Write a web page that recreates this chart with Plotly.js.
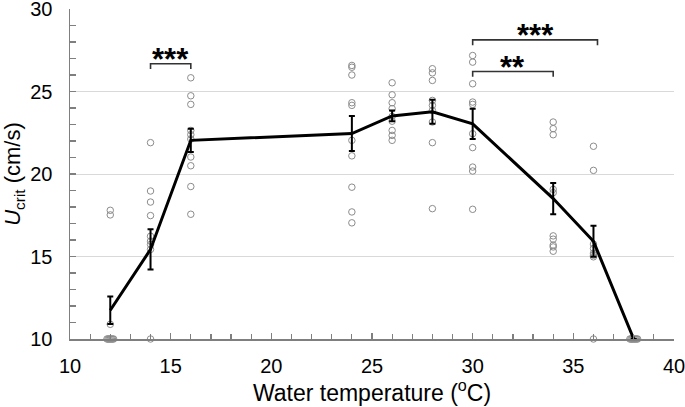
<!DOCTYPE html>
<html>
<head>
<meta charset="utf-8">
<script src="https://cdn.plot.ly/plotly-3.0.1.min.js"></script>
<style>
  html, body { margin: 0; padding: 0; background: #fff; }
  #chart { width: 685px; height: 407px; }
</style>
</head>
<body>
<div id="chart"></div>
<script>
// ---- Data ----
const temps = [12, 14, 16, 24, 26, 28, 30, 34, 36, 38];

const ucrit12 = [17.80, 17.52, 10.89, 10, 10, 10, 10, 10, 10, 10];
const ucrit14 = [21.90, 18.97, 18.30, 17.48, 16.23, 15.93, 15.73, 15.43, 10];
const ucrit16 = [25.83, 24.74, 24.22, 22.64, 22.38, 22.12, 21.03, 20.50, 19.24, 17.56];
const ucrit24 = [26.58, 26.47, 26.00, 24.32, 24.16, 22.04, 21.10, 19.20, 17.70, 17.04];
const ucrit26 = [25.53, 24.80, 24.32, 23.96, 23.49, 23.20, 22.64, 22.34, 22.04];
const ucrit28 = [26.38, 26.13, 25.67, 24.46, 24.16, 23.85, 23.15, 21.90, 17.90];
const ucrit30 = [27.18, 26.78, 25.47, 24.36, 24.22, 22.44, 21.60, 20.42, 20.18, 17.86];
const ucrit34 = [23.15, 22.75, 22.38, 19.07, 18.87, 16.25, 16.05, 15.69, 15.58, 15.32];
const ucrit36 = [21.68, 20.22, 15.75, 15.49, 15.20, 15.08, 14.98, 10];
const ucrit38 = [10, 10, 10, 10, 10, 10, 10, 10];

const groups = [ucrit12, ucrit14, ucrit16, ucrit24, ucrit26, ucrit28, ucrit30, ucrit34, ucrit36, ucrit38];

const meanUcrit = [11.74, 15.43, 22.04, 22.45, 23.52, 23.77, 23.04, 18.51, 15.92, 10];
const seUcrit   = [0.83, 1.22, 0.71, 1.06, 0.33, 0.73, 0.92, 0.95, 0.94, null];

const xTicks = [10, 15, 20, 25, 30, 35, 40];
const yTicks = [10, 15, 20, 25, 30];

// significance brackets: [from temp, to temp, label]
const sigFrom   = [14, 30, 30];
const sigTo     = [16, 34, 36.2];
const sigLabel  = ['***', '**', '***'];
const sigLevel  = [26.68, 26.21, 28.13];   // bracket height (cm/s)
const sigDrop   = 0.32;

// ---- Build traces ----
const px = [], py = [];
groups.forEach((vals, i) => {
  const floorCount = vals.filter(v => v === 10).length;
  let k = 0;
  vals.forEach(v => {
    let off = 0;
    if (v === 10 && floorCount > 1) {
      off = (k - (floorCount - 1) / 2) * 0.055;
      k++;
    }
    px.push(temps[i] + off);
    py.push(v);
  });
});

const font = 'Liberation Sans, Arial, sans-serif';

const traces = [
  {
    x: px, y: py, type: 'scatter', mode: 'markers', cliponaxis: false,
    marker: { symbol: 'circle-open', size: 6.5, color: '#8c8c8c', line: { width: 1, color: '#8c8c8c' } },
    hoverinfo: 'x+y', showlegend: false
  },
  {
    x: temps, y: meanUcrit, type: 'scatter', mode: 'lines', cliponaxis: false,
    line: { color: '#000', width: 3 },
    error_y: { type: 'data', array: seUcrit, visible: true, color: '#000', thickness: 2, width: 3 },
    showlegend: false
  }
];

const shapes = sigFrom.map((a, i) => ({
  type: 'path', xref: 'x', yref: 'y',
  path: `M${a},${sigLevel[i] - sigDrop} L${a},${sigLevel[i]} L${sigTo[i]},${sigLevel[i]} L${sigTo[i]},${sigLevel[i] - sigDrop}`,
  line: { color: '#333', width: 1.6 }
}));

const annotations = sigFrom.map((a, i) => ({
  xref: 'x', yref: 'y', x: (a + sigTo[i]) / 2, y: sigLevel[i],
  text: '<b>' + sigLabel[i] + '</b>', showarrow: false,
  xanchor: 'center', yanchor: 'bottom', yshift: -15,
  font: { family: font, size: 31, color: '#000' }
}));

const layout = {
  width: 685, height: 407,
  margin: { l: 70, r: 11, t: 9, b: 68 },
  paper_bgcolor: '#fff', plot_bgcolor: '#fff',
  font: { family: font, color: '#000' },
  xaxis: {
    range: [10, 40], tickvals: xTicks, ticktext: xTicks.map(String),
    ticks: 'inside', ticklen: 6, tickwidth: 1.2, tickcolor: '#7f7f7f',
    minor: { dtick: 1, tick0: 10, ticks: 'inside', ticklen: 5, tickwidth: 1.2, tickcolor: '#7f7f7f', showgrid: false },
    showline: true, linecolor: '#7f7f7f', linewidth: 1.5,
    showgrid: false, zeroline: false,
    tickfont: { family: font, size: 20, color: '#000' },
    ticklabelstandoff: 8, ticklabeloverflow: 'allow',
    title: { text: 'Water temperature (<sup>o</sup>C)', font: { family: font, size: 23, color: '#000' }, standoff: 5 }
  },
  yaxis: {
    range: [10, 30], tickvals: yTicks, ticktext: yTicks.map(String),
    ticks: 'inside', ticklen: 6, tickwidth: 1.2, tickcolor: '#7f7f7f',
    minor: { dtick: 1, tick0: 10, ticks: 'inside', ticklen: 6, tickwidth: 1.2, tickcolor: '#7f7f7f', showgrid: false },
    showline: true, linecolor: '#7f7f7f', linewidth: 1.5,
    showgrid: true, gridcolor: '#d9d9d9', gridwidth: 1, zeroline: false,
    tickfont: { family: font, size: 20, color: '#000' },
    ticklabelstandoff: 12, ticklabeloverflow: 'allow',
    title: { text: '<i>U</i><sub>crit</sub> (cm/s)', font: { family: font, size: 22, color: '#000' }, standoff: 6 }
  },
  shapes: shapes,
  annotations: annotations
};

Plotly.newPlot('chart', traces, layout, { displayModeBar: false, staticPlot: true });
</script>
</body>
</html>
